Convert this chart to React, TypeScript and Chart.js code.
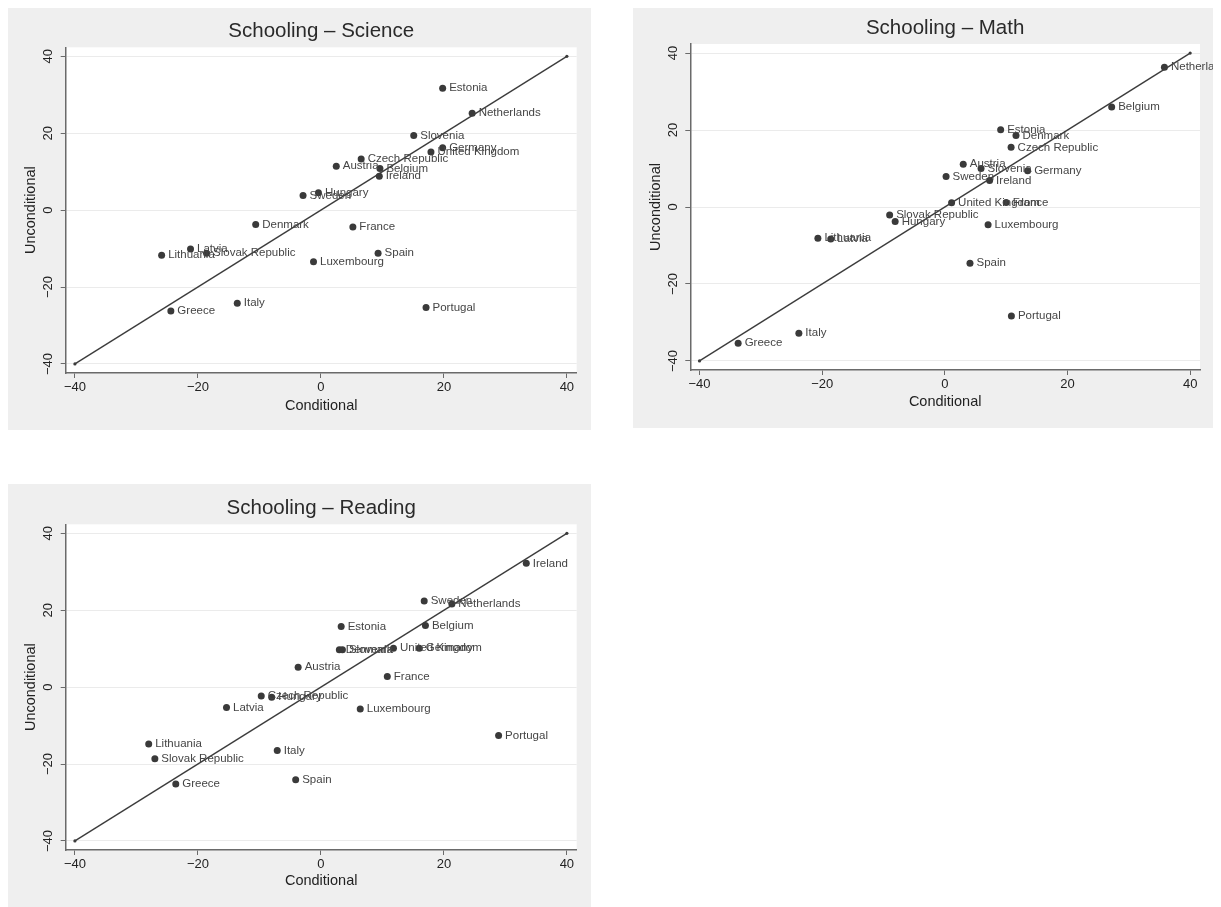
import React, { useEffect, useRef } from "react";
import { Chart, registerables } from "chart.js";

Chart.register(...registerables);

const FONT = "'Liberation Sans', Arial, Helvetica, sans-serif";

const countries = [
  "Austria", "Belgium", "Czech Republic", "Denmark", "Estonia", "France",
  "Germany", "Greece", "Hungary", "Ireland", "Italy", "Latvia", "Lithuania",
  "Luxembourg", "Netherlands", "Portugal", "Slovak Republic", "Slovenia",
  "Spain", "Sweden", "United Kingdom",
];

const scienceConditional = [2.5, 9.6, 6.55, -10.6, 19.8, 5.2, 19.8, -24.4, -0.4, 9.5, -13.6, -21.2, -25.9, -1.2, 24.6, 17.1, -18.6, 15.1, 9.3, -2.9, 17.9];
const scienceUnconditional = [11.4, 10.8, 13.3, -3.7, 31.7, -4.4, 16.2, -26.2, 4.5, 8.8, -24.2, -10.1, -11.7, -13.4, 25.2, -25.3, -11.2, 19.4, -11.2, 3.8, 15.1];

const mathConditional = [3.0, 27.2, 10.8, 11.6, 9.1, 10.0, 13.5, -33.7, -8.1, 7.3, -23.8, -18.6, -20.7, 7.05, 35.8, 10.85, -9.0, 5.9, 4.1, 0.2, 1.1];
const mathUnconditional = [11.1, 26.0, 15.5, 18.6, 20.1, 1.2, 9.4, -35.4, -3.75, 6.9, -32.8, -8.3, -8.1, -4.6, 36.3, -28.3, -2.1, 10.0, -14.6, 7.9, 1.1];

const readingConditional = [-3.7, 17.0, -9.7, 3.0, 3.3, 10.8, 16.0, -23.6, -8.0, 33.4, -7.1, -15.35, -28.0, 6.4, 21.3, 28.9, -27.0, 3.5, -4.1, 16.8, 11.8];
const readingUnconditional = [5.2, 16.0, -2.3, 9.7, 15.8, 2.8, 10.1, -25.2, -2.6, 32.2, -16.5, -5.3, -14.8, -5.7, 21.6, -12.6, -18.6, 9.7, -24.1, 22.4, 10.1];

const tickValues = [-40, -20, 0, 20, 40];
const diagonalEnds = [-40, 40];

const xTitle = "Conditional";
const yTitle = "Unconditional";

function fmt(v: number): string {
  return v < 0 ? "\u2212" + Math.abs(v) : String(v);
}

type Area = { L: number; R: number; T: number; B: number };

type PanelProps = {
  title: string;
  cond: number[];
  uncond: number[];
  w: number;
  h: number;
  area: Area;
  left: number;
  top: number;
  xTitlePad: number;
};

function Panel({ title, cond, uncond, w, h, area, left, top, xTitlePad }: PanelProps) {
  const ref = useRef<HTMLCanvasElement | null>(null);

  useEffect(() => {
    if (!ref.current) return;
    const bgPlugin = {
      id: "bg",
      beforeDraw(chart: any) {
        const { ctx, chartArea } = chart;
        ctx.save();
        ctx.fillStyle = "#efefef";
        ctx.fillRect(0, 0, chart.width, chart.height);
        ctx.fillStyle = "#ffffff";
        ctx.fillRect(chartArea.left, chartArea.top, chartArea.right - chartArea.left, chartArea.bottom - chartArea.top);
        ctx.restore();
      },
    };
    const titlePlugin = {
      id: "panelTitle",
      afterDraw(chart: any) {
        const { ctx, chartArea } = chart;
        ctx.save();
        ctx.font = `20.5px ${FONT}`;
        ctx.fillStyle = "#2a2a2a";
        ctx.textAlign = "center";
        ctx.textBaseline = "middle";
        ctx.fillText(title, (chartArea.left + chartArea.right) / 2, chartArea.top - 16);
        ctx.restore();
      },
    };
    const labelPlugin = {
      id: "pointLabels",
      afterDatasetsDraw(chart: any) {
        const { ctx } = chart;
        const meta = chart.getDatasetMeta(1);
        ctx.save();
        ctx.font = `11.5px ${FONT}`;
        ctx.fillStyle = "#454545";
        ctx.textAlign = "left";
        ctx.textBaseline = "middle";
        meta.data.forEach((el: any, i: number) => {
          ctx.fillText(countries[i], el.x + 6.5, el.y);
        });
        ctx.restore();
      },
    };

    const points = cond.map((c, i) => ({ x: c, y: uncond[i] }));
    const line = diagonalEnds.map((v) => ({ x: v, y: v }));

    const chart = new Chart(ref.current, {
      type: "scatter",
      data: {
        datasets: [
          {
            data: line,
            showLine: true,
            borderColor: "#3c3c3c",
            borderWidth: 1.4,
            pointRadius: 1.6,
            pointBackgroundColor: "#3c3c3c",
            pointBorderWidth: 0,
          },
          {
            data: points,
            pointRadius: 3.5,
            pointBackgroundColor: "#3a3a3a",
            pointBorderWidth: 0,
          },
        ],
      },
      options: {
        animation: false,
        responsive: false,
        events: [],
        layout: { padding: { left: 0, top: area.T, right: w - area.R, bottom: 0 } },
        plugins: { legend: { display: false }, tooltip: { enabled: false }, title: { display: false } },
        scales: {
          x: {
            type: "linear",
            position: "bottom",
            min: -41.5,
            max: 41.6,
            afterBuildTicks: (s: any) => {
              s.ticks = tickValues.map((v) => ({ value: v }));
            },
            afterFit: (s: any) => {
              s.height = h - area.B;
            },
            grid: { color: "rgba(0,0,0,0)", tickColor: "#6a6a6a", tickLength: 5, lineWidth: 1 },
            border: { display: true, color: "#6a6a6a", width: 1.5 },
            ticks: {
              callback: (v: any) => fmt(Number(v)),
              font: { size: 13, family: FONT },
              color: "#222222",
              padding: 2,
              maxRotation: 0,
              minRotation: 0,
              autoSkip: false,
            },
            title: {
              display: true,
              text: xTitle,
              font: { size: 14.5, family: FONT },
              color: "#222222",
              padding: { top: 0, bottom: xTitlePad },
            },
          },
          y: {
            type: "linear",
            position: "left",
            min: -42.35,
            max: 42.35,
            afterBuildTicks: (s: any) => {
              s.ticks = tickValues.map((v) => ({ value: v }));
            },
            afterFit: (s: any) => {
              s.width = area.L;
            },
            grid: { color: "#ebebeb", tickColor: "#6a6a6a", tickLength: 5, lineWidth: 1 },
            border: { display: true, color: "#6a6a6a", width: 1.5 },
            ticks: {
              callback: (v: any) => fmt(Number(v)),
              font: { size: 13, family: FONT },
              color: "#222222",
              padding: 1,
              minRotation: 90,
              maxRotation: 90,
              crossAlign: "center",
              autoSkip: false,
            },
            title: {
              display: true,
              text: yTitle,
              font: { size: 14.5, family: FONT },
              color: "#222222",
              padding: { top: 14.5, bottom: 0 },
            },
          },
        },
      } as any,
      plugins: [bgPlugin, titlePlugin, labelPlugin],
    });
    return () => chart.destroy();
  }, []);

  return (
    <div style={{ position: "absolute", left, top, width: w, height: h }}>
      <canvas ref={ref} width={w} height={h} style={{ display: "block", width: w, height: h }} />
    </div>
  );
}

export default function App() {
  return (
    <div style={{ position: "relative", width: 1208, height: 899 }}>
      <Panel
        title="Schooling – Science"
        cond={scienceConditional}
        uncond={scienceUnconditional}
        w={583}
        h={422}
        area={{ L: 57.7, R: 568.7, T: 39.3, B: 365 }}
        left={0}
        top={0}
        xTitlePad={15}
      />
      <Panel
        title="Schooling – Math"
        cond={mathConditional}
        uncond={mathUnconditional}
        w={582}
        h={420}
        area={{ L: 57.3, R: 567, T: 36, B: 362 }}
        left={625}
        top={0}
        xTitlePad={17}
      />
      <Panel
        title="Schooling – Reading"
        cond={readingConditional}
        uncond={readingUnconditional}
        w={583}
        h={423}
        area={{ L: 57.7, R: 568.7, T: 40.3, B: 366 }}
        left={0}
        top={476}
        xTitlePad={17}
      />
    </div>
  );
}
